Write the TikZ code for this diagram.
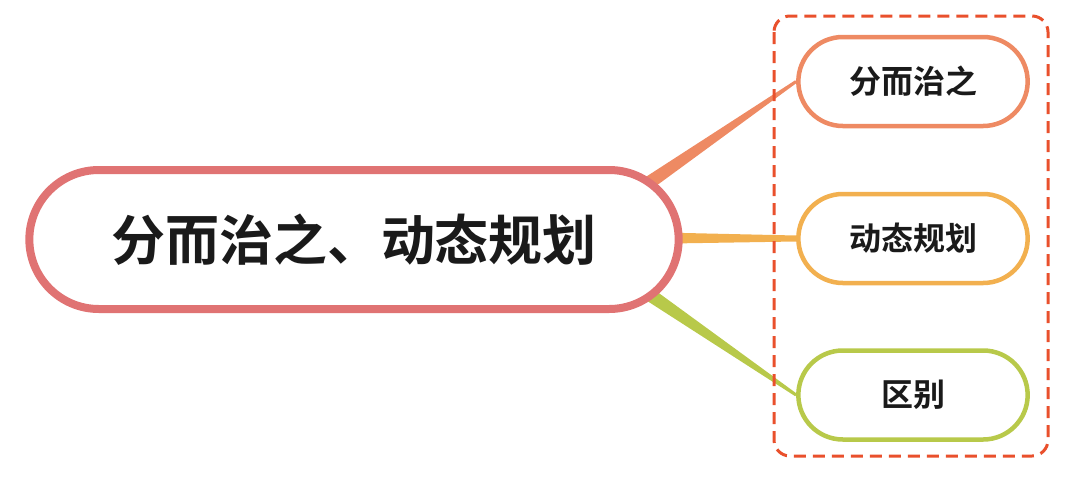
\documentclass[tikz,border=0pt]{standalone}
\usepackage{fontspec}
\newfontfamily\cjk{Noto Sans CJK SC Bold}
\usetikzlibrary{shapes.misc,calc,positioning,backgrounds}

\definecolor{rootred}{HTML}{E07373}
\definecolor{branchorange}{HTML}{EE8A63}
\definecolor{branchyellow}{HTML}{F2B04F}
\definecolor{branchgreen}{HTML}{B8C94A}
\definecolor{boxred}{HTML}{E9502C}
\definecolor{inkblack}{HTML}{1A1A1A}

\tikzset{
  rootnode/.style={rounded rectangle, draw=rootred, line width=8pt, fill=white,
    minimum width=656pt, minimum height=139pt, text=inkblack,
    font=\cjk\fontsize{54pt}{60pt}\selectfont},
  leafnode/.style={rounded rectangle, line width=4.5pt, fill=white,
    minimum width=236pt, minimum height=89pt, text=inkblack,
    font=\cjk\fontsize{32pt}{36pt}\selectfont},
  groupbox/.style={draw=boxred, line width=3pt, rounded corners=16pt,
    dash pattern=on 12pt off 7pt},
}

% tapered branch: start, end, colour, half width at start, half width at end
\newcommand\branch[5]{
  \fill[#3] ($(#1)!#4!90:(#2)$) -- ($(#2)!#5!-90:(#1)$)
    -- ($(#2)!#5!90:(#1)$) -- ($(#1)!#4!-90:(#2)$) -- cycle;
}

\begin{document}
\begin{tikzpicture}[x=1pt,y=-1pt]
  \useasboundingbox (0,0) rectangle (1080,480);

  \node[rootnode] (root) at (354,239.5) {分而治之、动态规划};

  \node[leafnode, draw=branchorange] (divide) at (913,81.5) {分而治之};
  \node[leafnode, draw=branchyellow] (dynamic) at (913,238.5) {动态规划};
  \node[leafnode, draw=branchgreen] (differ) at (913,395) {区别};

  \coordinate (s1) at (640,189);
  \coordinate (s2) at (640,238);
  \coordinate (s3) at (640,288);

  \begin{scope}[on background layer]
    \branch{s1}{divide.west}{branchorange}{7pt}{1.5pt}
    \branch{s2}{dynamic.west}{branchyellow}{6pt}{3pt}
    \branch{s3}{differ.west}{branchgreen}{7pt}{1.5pt}
  \end{scope}

  \draw[groupbox] (774,16) rectangle (1048,456);
\end{tikzpicture}
\end{document}
